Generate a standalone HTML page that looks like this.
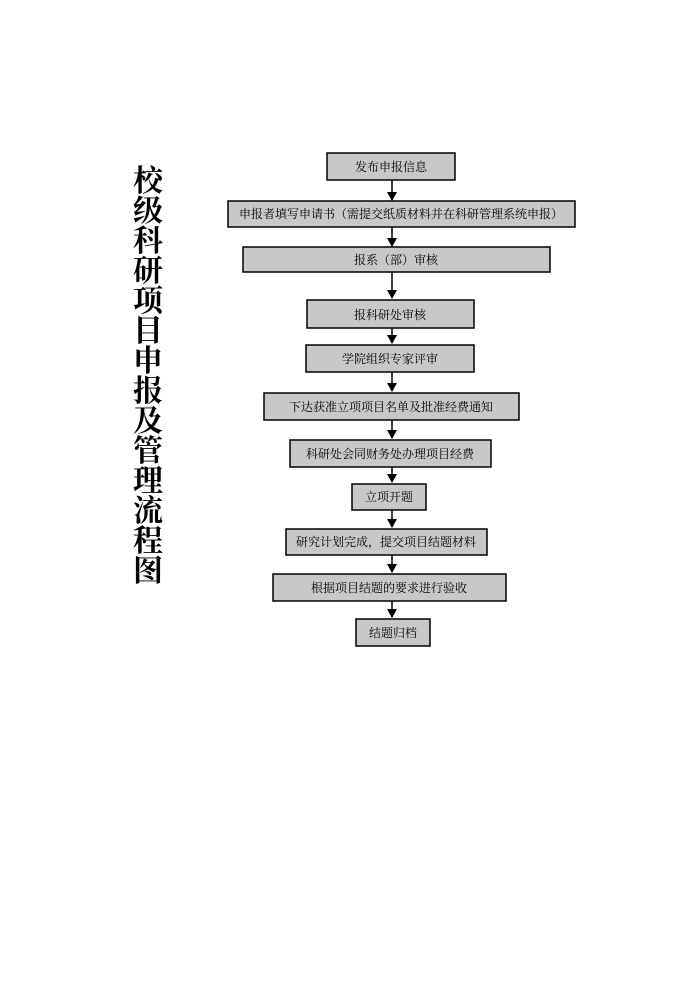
<!DOCTYPE html>
<html><head><meta charset="utf-8"><style>
html,body{margin:0;padding:0;background:#fff;}
body{width:700px;height:989px;position:relative;overflow:hidden;}
.t{position:absolute;left:130px;top:163px;width:36px;font-family:"Noto Serif CJK SC","Noto Sans CJK SC",serif;font-weight:bold;font-size:30px;line-height:30px;text-align:center;color:#000;}
svg text{font-family:"Liberation Serif","Noto Serif CJK SC",serif;font-size:12px;fill:#000;}
</style></head><body>
<div class="t">校<br>级<br>科<br>研<br>项<br>目<br>申<br>报<br>及<br>管<br>理<br>流<br>程<br>图</div>
<svg width="700" height="989" style="position:absolute;left:0;top:0">
<g stroke="#000" stroke-width="1.5">
<line x1="392" y1="180" x2="392" y2="200"/>
<line x1="392" y1="227" x2="392" y2="246"/>
<line x1="392" y1="272" x2="392" y2="298"/>
<line x1="392" y1="328" x2="392" y2="343"/>
<line x1="392" y1="372" x2="392" y2="391"/>
<line x1="392" y1="420" x2="392" y2="438"/>
<line x1="392" y1="467" x2="392" y2="482"/>
<line x1="392" y1="510" x2="392" y2="527"/>
<line x1="392" y1="555" x2="392" y2="572"/>
<line x1="392" y1="601" x2="392" y2="617"/>
</g>
<g fill="#000">
<path d="M387,192 L397,192 L392,201 z"/>
<path d="M387,238 L397,238 L392,247 z"/>
<path d="M387,290 L397,290 L392,299 z"/>
<path d="M387,335 L397,335 L392,344 z"/>
<path d="M387,383 L397,383 L392,392 z"/>
<path d="M387,430 L397,430 L392,439 z"/>
<path d="M387,474 L397,474 L392,483 z"/>
<path d="M387,519 L397,519 L392,528 z"/>
<path d="M387,564 L397,564 L392,573 z"/>
<path d="M387,609 L397,609 L392,618 z"/>
</g>
<g fill="#c8c8c8" stroke="#000" stroke-width="1.5">
<rect x="327" y="153" width="128" height="27"/>
<rect x="228" y="201" width="347" height="26"/>
<rect x="243" y="247" width="307" height="25"/>
<rect x="307" y="300" width="167" height="28"/>
<rect x="306" y="345" width="168" height="27"/>
<rect x="264" y="393" width="255" height="27"/>
<rect x="290" y="440" width="201" height="27"/>
<rect x="352" y="484" width="74" height="26"/>
<rect x="286" y="529" width="201" height="26"/>
<rect x="273" y="574" width="233" height="27"/>
<rect x="356" y="619" width="74" height="27"/>
</g>
<g text-anchor="middle">
<text x="391" y="171">发布申报信息</text>
<text x="401" y="218">申报者填写申请书（需提交纸质材料并在科研管理系统申报）</text>
<text x="396" y="264">报系（部）审核</text>
<text x="390" y="319">报科研处审核</text>
<text x="390" y="363">学院组织专家评审</text>
<text x="391" y="411">下达获准立项项目名单及批准经费通知</text>
<text x="390" y="458">科研处会同财务处办理项目经费</text>
<text x="389" y="501">立项开题</text>
<text x="386" y="546">研究计划完成，提交项目结题材料</text>
<text x="389" y="592">根据项目结题的要求进行验收</text>
<text x="393" y="637">结题归档</text>
</g>
</svg>
</body></html>
